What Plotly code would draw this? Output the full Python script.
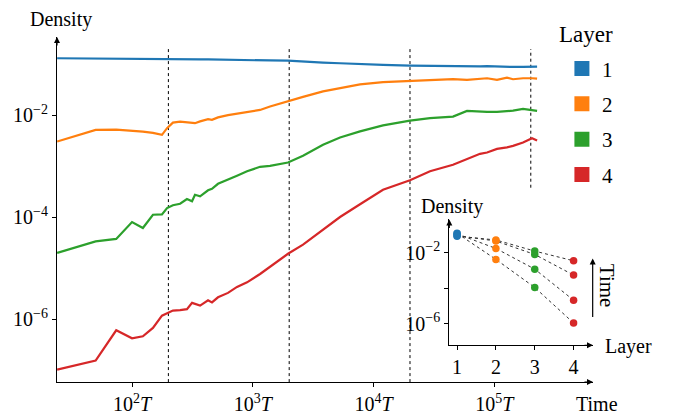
import plotly.graph_objects as go

# ---------------- data ----------------
time = [24, 50, 74, 100, 123, 149, 177, 195, 218, 250, 285, 314, 332, 366, 426,
        459, 515, 623, 740, 896, 1148, 1388, 1955, 2604, 3813, 5272, 7718, 11960,
        20000, 29300, 45400, 59300, 76000, 86900, 105000, 127000, 142600, 172500,
        204800, 225500]

layer1 = [0.1324, 0.1318, 0.1312, 0.1306, 0.1300, 0.1294, 0.1288, 0.1282, 0.1276,
          0.1270, 0.1270, 0.1265, 0.1265, 0.1259, 0.1253, 0.1247, 0.1242, 0.1230,
          0.1219, 0.1208, 0.1202, 0.1197, 0.1188, 0.1130, 0.1089, 0.1056, 0.1009,
          0.0977, 0.0947, 0.0935, 0.0914, 0.0902, 0.0918, 0.0926, 0.0909, 0.0881,
          0.0893, 0.0893, 0.0902, 0.0906]

layer2 = [3.06e-3, 5.20e-3, 5.25e-3, 5.08e-3, 4.81e-3, 4.54e-3, 4.15e-3, 5.61e-3,
          7.22e-3, 7.56e-3, 7.29e-3, 7.13e-3, 7.03e-3, 7.63e-3, 8.42e-3, 8.16e-3,
          9.14e-3, 1.01e-2, 1.07e-2, 1.17e-2, 1.28e-2, 1.49e-2, 1.92e-2, 2.31e-2,
          2.96e-2, 3.41e-2, 4.05e-2, 4.48e-2, 4.75e-2, 4.90e-2, 5.13e-2, 4.97e-2,
          5.31e-2, 5.36e-2, 4.97e-2, 5.51e-2, 5.13e-2, 5.36e-2, 5.36e-2, 5.27e-2]

layer3 = [1.99e-5, 3.35e-5, 3.75e-5, 8.05e-5, 6.14e-5, 1.12e-4, 1.135e-4, 1.515e-4,
          1.72e-4, 1.84e-4, 2.28e-4, 2.06e-4, 2.76e-4, 2.58e-4, 3.38e-4, 3.62e-4,
          4.54e-4, 5.43e-4, 6.52e-4, 7.98e-4, 9.77e-4, 1.02e-3, 1.19e-3, 1.61e-3,
          2.64e-3, 3.67e-3, 4.86e-3, 6.37e-3, 7.91e-3, 8.81e-3, 9.47e-3, 1.225e-2,
          1.17e-2, 1.17e-2, 1.17e-2, 1.20e-2, 1.24e-2, 1.34e-2, 1.28e-2, 1.225e-2]

layer4 = [1.02e-7, 1.535e-7, 6.03e-7, 4.20e-7, 4.60e-7, 6.72e-7, 1.17e-6, 1.32e-6,
          1.47e-6, 1.50e-6, 1.57e-6, 2.08e-6, 1.97e-6, 1.84e-6, 2.34e-6, 2.13e-6,
          2.68e-6, 3.27e-6, 4.28e-6, 5.27e-6, 7.69e-6, 1.07e-5, 1.92e-5, 2.89e-5,
          5.69e-5, 1.01e-4, 1.80e-4, 3.46e-4, 5.31e-4, 7.98e-4, 1.07e-3, 1.40e-3,
          1.76e-3, 1.87e-3, 2.20e-3, 2.36e-3, 2.52e-3, 2.93e-3, 3.57e-3, 3.21e-3]

layer_names = ["1", "2", "3", "4"]
snapshot_times = [200, 2000, 20000, 200000]

# inset: density per layer at each snapshot time
layers = [1, 2, 3, 4]
inset_t200 = [0.128, 4.27e-3, 1.10e-4, 1.07e-6]
inset_t2000 = [0.119, 1.78e-2, 1.20e-3, 2.09e-5]
inset_t20000 = [0.0947, 4.68e-2, 8.13e-3, 5.50e-4]
inset_t200000 = [0.088, 5.37e-2, 1.26e-2, 3.55e-3]

x_tickvals = [1e2, 1e3, 1e4, 1e5]
x_ticktext = ["10<sup>2</sup><i>T</i>", "10<sup>3</sup><i>T</i>",
              "10<sup>4</sup><i>T</i>", "10<sup>5</sup><i>T</i>"]
y_tickvals = [1e-6, 1e-4, 1e-2]
y_ticktext = ["10<sup>−6</sup>", "10<sup>−4</sup>", "10<sup>−2</sup>"]
inset_y_tickvals = [1e-6, 1e-2]
inset_y_ticktext = ["10<sup>−6</sup>", "10<sup>−2</sup>"]

# ---------------- style ----------------
colors = ["#1f77b4", "#ff7f0e", "#2ca02c", "#d62728"]
FONT = "Liberation Serif, Times New Roman, Times, serif"

fig = go.Figure()

# dotted vertical markers at snapshot times
vline_tops = [0.201, 0.201, 0.201, 0.201]
vline_bottoms = [5.8e-8, 5.8e-8, 5.8e-8, 3.8e-4]
for t, y0, y1 in zip(snapshot_times, vline_bottoms, vline_tops):
    fig.add_trace(go.Scatter(x=[t, t], y=[y0, y1], mode="lines",
                             line=dict(color="black", width=1, dash="dot"),
                             showlegend=False, hoverinfo="skip"))

# main lines
for vals, c in zip([layer1, layer2, layer3, layer4], colors):
    fig.add_trace(go.Scatter(x=time, y=vals, mode="lines",
                             line=dict(color=c, width=2.2),
                             showlegend=False))

# legend entries (square markers)
for name, c in zip(layer_names, colors):
    fig.add_trace(go.Scatter(x=[None], y=[None], mode="markers", name=name,
                             legendgroup=name,
                             marker=dict(symbol="square", size=15, color=c)))

# inset: dotted connectors per snapshot time
snaps = [inset_t200, inset_t2000, inset_t20000, inset_t200000]
for snap in snaps:
    fig.add_trace(go.Scatter(x=layers, y=snap, mode="lines", xaxis="x2", yaxis="y2",
                             line=dict(color="#333333", width=1, dash="dot"),
                             showlegend=False, hoverinfo="skip"))
# inset: points per layer
for i, c in enumerate(colors):
    fig.add_trace(go.Scatter(x=[layers[i]] * 4, y=[s[i] for s in snaps],
                             mode="markers", xaxis="x2", yaxis="y2",
                             marker=dict(color=c, size=7.5),
                             showlegend=False))

axis_common = dict(showline=True, linecolor="black", linewidth=1.2,
                   ticks="outside", ticklen=4, tickwidth=1, tickcolor="black",
                   showgrid=False, zeroline=False, layer="above traces",
                   tickfont=dict(family=FONT, size=20, color="black"))

fig.update_layout(
    width=673, height=418,
    margin=dict(l=57, r=80, t=37, b=36, autoexpand=False),
    paper_bgcolor="white", plot_bgcolor="rgba(0,0,0,0)",
    font=dict(family=FONT, color="black", size=20),
    xaxis=dict(type="log", range=[1.379, 5.816], domain=[0, 1], anchor="y",
               tickvals=x_tickvals, ticktext=x_ticktext, **axis_common),
    yaxis=dict(type="log", range=[-7.235, -0.461], domain=[0, 1], anchor="x",
               tickvals=y_tickvals, ticktext=y_ticktext, **axis_common),
    xaxis2=dict(range=[0.80, 4.50], domain=[0.7319, 1.0], anchor="y2",
                tickvals=layers, ticktext=layer_names, **axis_common),
    yaxis2=dict(type="log", range=[-7.23, -0.11], domain=[0.1065, 0.4711],
                anchor="x2", tickvals=inset_y_tickvals, ticktext=inset_y_ticktext,
                minor=dict(tickvals=[1e-4], ticks="outside", ticklen=4,
                           tickcolor="black", tickwidth=1),
                **axis_common),
    legend=dict(x=0.942, y=0.967, xanchor="left", yanchor="top",
                font=dict(family=FONT, size=21),
                tracegroupgap=5, bgcolor="rgba(0,0,0,0)"),
    showlegend=True,
)

ann = []
def label(text, x, y, size=20, angle=0):
    ann.append(dict(text=text, x=x, y=y, xref="paper", yref="paper",
                    showarrow=False, textangle=angle, xanchor="center", yanchor="middle",
                    font=dict(family=FONT, size=size, color="black")))

def arrowhead(x, y, ax, ay):
    ann.append(dict(text="", x=x, y=y, xref="paper", yref="paper",
                    ax=ax, ay=ay, axref="pixel", ayref="pixel",
                    showarrow=True, arrowhead=2, arrowsize=1, arrowwidth=1.2,
                    arrowcolor="black"))

label("Density", 0.0075, 1.052)
label("Layer", 0.987, 1.006, size=23)
label("Time", 1.0075, -0.0647)
label("Density", 0.737, 0.508)
label("Layer", 1.067, 0.102)
label("Time", 1.026, 0.279, size=21, angle=90)

arrowhead(1.0, 0.0, -10, 0)
arrowhead(0.0, 1.0, 0, 10)
arrowhead(1.0, 0.1065, -10, 0)
arrowhead(0.7319, 0.4711, 0, 10)
# "Time" arrow in the inset
ann.append(dict(text="", x=0.9994, y=0.358, xref="paper", yref="paper",
                ax=0, ay=60, axref="pixel", ayref="pixel", showarrow=True,
                arrowhead=2, arrowsize=1, arrowwidth=1.2, arrowcolor="black"))

fig.update_layout(annotations=ann)
fig.write_html("out.html", config={"displayModeBar": False},
               post_script="document.body.style.margin='0px';document.body.style.overflow='hidden';")
